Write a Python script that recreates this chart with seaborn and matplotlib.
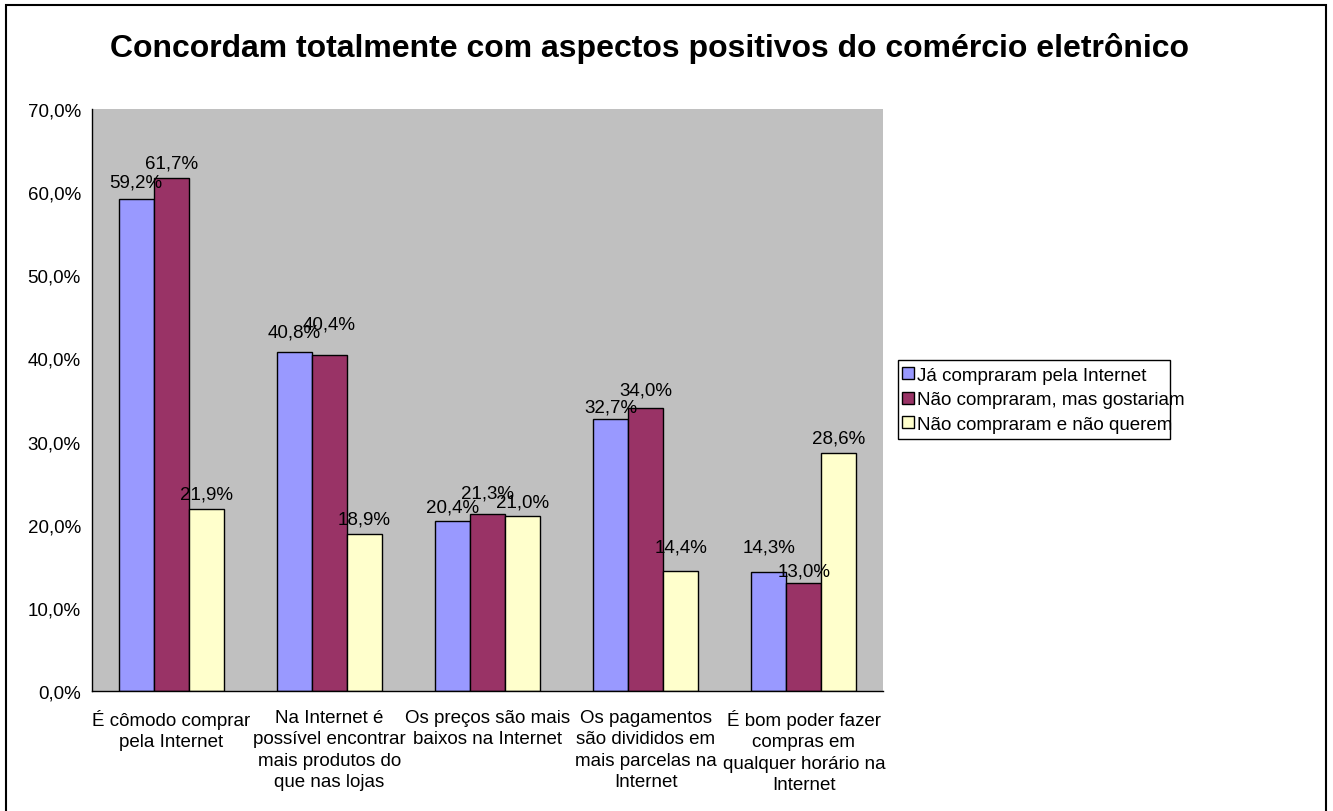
import matplotlib
matplotlib.use("Agg")
import matplotlib.pyplot as plt
import matplotlib.patches as mpatches
import seaborn as sns
import pandas as pd

categories = [
    "É cômodo comprar\npela Internet",
    "Na Internet é\npossível encontrar\nmais produtos do\nque nas lojas",
    "Os preços são mais\nbaixos na Internet",
    "Os pagamentos\nsão divididos em\nmais parcelas na\nInternet",
    "É bom poder fazer\ncompras em\nqualquer horário na\nInternet",
]
series_names = [
    "Já compraram pela Internet",
    "Não compraram, mas gostariam",
    "Não compraram e não querem",
]
ja_compraram = [59.2, 40.8, 20.4, 32.7, 14.3]
nao_mas_gostariam = [61.7, 40.4, 21.3, 34.0, 13.0]
nao_e_nao_querem = [21.9, 18.9, 21.0, 14.4, 28.6]
series_values = [ja_compraram, nao_mas_gostariam, nao_e_nao_querem]
colors = ["#9999FF", "#993366", "#FFFFCC"]
y_ticks = [0, 10, 20, 30, 40, 50, 60, 70]

# per-label nudge (pixels) so crowded labels stay readable
label_lift = [
    [2, 5, -1, -3, 10],
    [0, 16, 6, 3, -3],
    [0, 0, -1, 9, 0],
]

rows = []
for name, vals in zip(series_names, series_values):
    for cat, v in zip(categories, vals):
        rows.append({"categoria": cat, "grupo": name, "valor": v})
df = pd.DataFrame(rows)

sns.set_style("white")
plt.rcParams["font.family"] = ["Liberation Sans", "DejaVu Sans"]
plt.rcParams["text.color"] = "black"
plt.rcParams["xtick.color"] = "black"
plt.rcParams["ytick.color"] = "black"

FS = 13.5
PX = 0.72  # points per pixel at 100 dpi


def pct(v):
    return f"{v:.1f}%".replace(".", ",")


fig = plt.figure(figsize=(13.33, 8.12), dpi=100)
ax = fig.add_axes([0.069, 0.1478, 0.5934, 0.7167])
ax.set_facecolor("#C0C0C0")

sns.barplot(data=df, x="categoria", y="valor", hue="grupo", order=categories,
            hue_order=series_names, palette=colors, width=0.664,
            edgecolor="black", linewidth=1.0, saturation=1, ax=ax, legend=False)

for s, container in enumerate(ax.containers):
    for c, patch in enumerate(container.patches):
        v = series_values[s][c]
        ax.annotate(pct(v), xy=(patch.get_x() + patch.get_width() / 2, v),
                    xytext=(0, (6.5 + label_lift[s][c]) * PX), textcoords="offset points",
                    ha="center", va="bottom", fontsize=FS, color="black")

ax.set_ylim(0, 70)
ax.set_xlim(-0.5, len(categories) - 0.5)
ax.set_yticks(y_ticks)
ax.set_yticklabels([pct(t) for t in y_ticks], fontsize=FS)
ax.set_xticks([i - 0.5 for i in range(len(categories) + 1)], minor=False)
ax.set_xticklabels([])
ax.set_xticks(range(len(categories)), minor=True)
ax.set_xticklabels(categories, minor=True, fontsize=FS, linespacing=1.33)
ax.tick_params(axis="x", which="minor", length=0, pad=13)
ax.tick_params(axis="x", which="major", length=5, width=1, direction="out", color="black")
ax.tick_params(axis="y", length=5, width=1, direction="out", color="black", pad=3)
ax.set_xlabel("")
ax.set_ylabel("")
for side in ["top", "right"]:
    ax.spines[side].set_visible(False)
for side in ["left", "bottom"]:
    ax.spines[side].set_color("black")
    ax.spines[side].set_linewidth(1)

fig.suptitle("Concordam totalmente com aspectos positivos do comércio eletrônico",
             x=0.487, y=0.94, fontsize=23, fontweight="bold", va="center", color="black")

handles = [mpatches.Patch(facecolor=c, edgecolor="black", linewidth=1) for c in colors]
leg = fig.legend(handles, series_names, loc="center left", bbox_to_anchor=(0.6735, 0.5065),
                 fontsize=FS, frameon=False, handlelength=0.6,
                 handleheight=0.6, handletextpad=0.2, borderpad=0.25, labelspacing=0.4,
                 borderaxespad=0)

# legend box
W, H = 1333, 812
fig.patches.append(mpatches.Rectangle((898 / W, 1 - 440 / H), 272 / W, 79 / H,
                                      transform=fig.transFigure, fill=False,
                                      edgecolor="black", linewidth=1))
# chart border
fig.patches.append(mpatches.Rectangle((6 / W, -0.01), 1320 / W, 1.01 - 6 / H,
                                      transform=fig.transFigure, fill=False,
                                      edgecolor="black", linewidth=1.5))

fig.savefig("out.png", dpi=100)
